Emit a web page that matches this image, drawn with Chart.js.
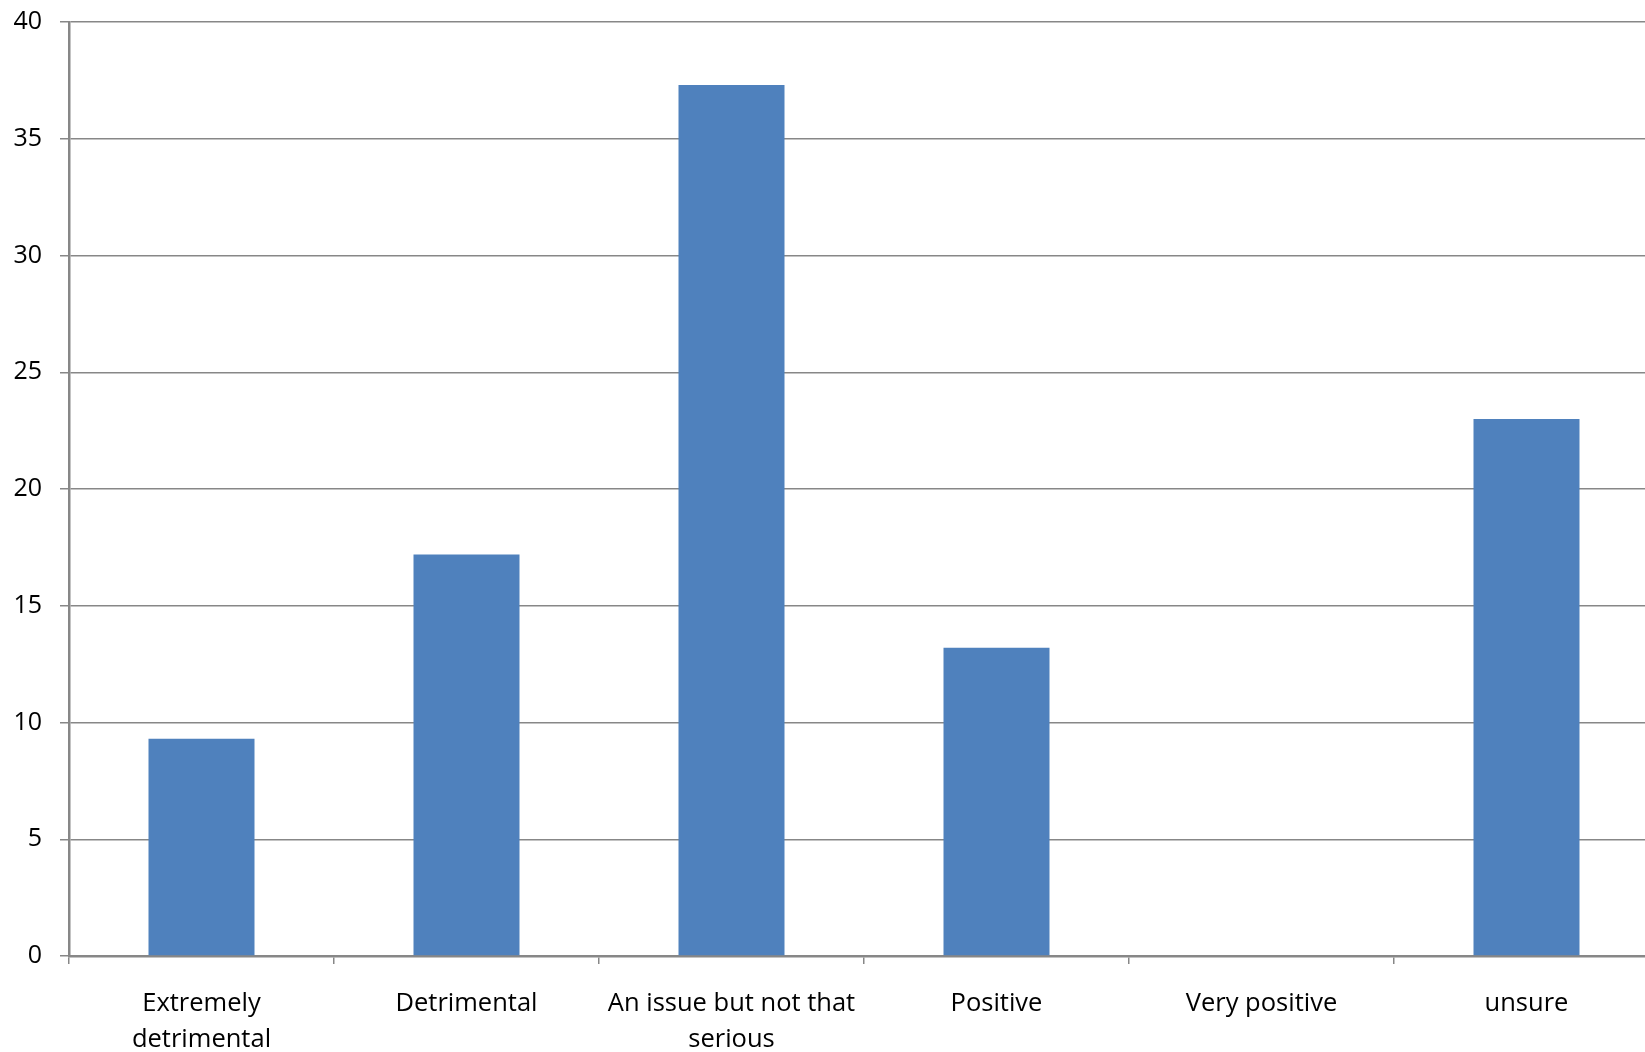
<!DOCTYPE html>
<html>
<head>
<meta charset="utf-8">
<script src="https://cdn.jsdelivr.net/npm/chart.js@4/dist/chart.umd.min.js"></script>
<style>
  html, body { margin: 0; padding: 0; background: #fff; overflow: hidden; }
  /* plot runs slightly past the right edge, as in the original crop */
  #wrap { width: 1659px; height: 1052px; }
</style>
</head>
<body>
<div id="wrap"><canvas id="chart"></canvas></div>
<script>
const categories = [
  ["Extremely", "detrimental"],
  "Detrimental",
  ["An issue but not that", "serious"],
  "Positive",
  "Very positive",
  "unsure"
];
const values = [9.3, 17.2, 37.3, 13.2, 0, 23.0];
const yTicks = [0, 5, 10, 15, 20, 25, 30, 35, 40];

const gridGray = "#878787";
const font = "'Open Sans', 'Liberation Sans', sans-serif";

new Chart(document.getElementById("chart"), {
  type: "bar",
  data: {
    labels: categories,
    datasets: [{
      data: values,
      backgroundColor: "#4F81BD",
      borderWidth: 0,
      barPercentage: 0.4,
      categoryPercentage: 1.0
    }]
  },
  options: {
    responsive: true,
    maintainAspectRatio: false,
    animation: false,
    layout: { padding: { top: 22, right: 0, left: 0, bottom: 0 } },
    plugins: { legend: { display: false }, tooltip: { enabled: false } },
    scales: {
      x: {
        grid: { drawOnChartArea: false, color: gridGray, lineWidth: 1.5, tickLength: 8, offset: true },
        border: { color: gridGray, width: 2.5 },
        ticks: { color: "#000", padding: 22, maxRotation: 0, autoSkip: false,
                 font: { family: font, size: 25.5, lineHeight: 1.4 } },
        afterFit: s => { s.height = 96; }
      },
      y: {
        min: 0,
        max: 40,
        afterBuildTicks: s => { s.ticks = yTicks.map(v => ({ value: v })); },
        grid: { color: gridGray, lineWidth: 1.5, tickLength: 9 },
        border: { color: gridGray, width: 2.5 },
        ticks: { color: "#000", padding: 18, font: { family: font, size: 25 } },
        afterFit: s => { s.width = 69; s.paddingTop = 0; s.paddingBottom = 0; }
      }
    }
  }
});
</script>
</body>
</html>
